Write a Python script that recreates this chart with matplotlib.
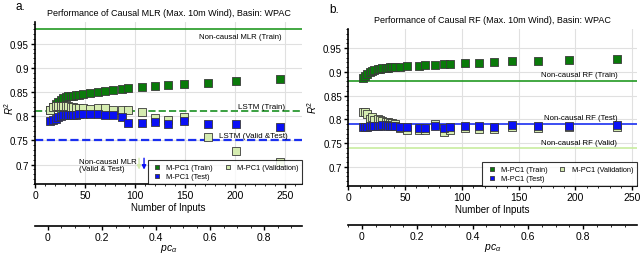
import matplotlib
matplotlib.use("Agg")
import matplotlib.pyplot as plt
from matplotlib.ticker import MultipleLocator

# ---- panel a: causal MLR ----
xa = [15, 18, 21, 23, 26, 28, 31, 33, 36, 38, 41, 44, 48, 55, 63, 70, 78, 87, 93,
      107, 120, 133, 149, 173, 201, 245]
train_a = [0.814, 0.819, 0.825, 0.830, 0.834, 0.838, 0.840, 0.841, 0.841, 0.842, 0.843,
           0.844, 0.846, 0.849, 0.850, 0.852, 0.855, 0.857, 0.858, 0.860, 0.862, 0.865,
           0.867, 0.869, 0.872, 0.877]
valid_a = [0.814, 0.819, 0.821, 0.822, 0.822, 0.821, 0.822, 0.821, 0.820, 0.819, 0.818,
           0.818, 0.818, 0.815, 0.817, 0.817, 0.813, 0.812, 0.814, 0.809, 0.797, 0.793,
           0.799, 0.757, 0.728, 0.705]
test_a = [0.791, 0.792, 0.795, 0.799, 0.801, 0.802, 0.803, 0.803, 0.803, 0.803, 0.803,
          0.804, 0.804, 0.804, 0.805, 0.803, 0.802, 0.799, 0.786, 0.786, 0.788, 0.785,
          0.790, 0.785, 0.785, 0.777]
mlr_train = 0.98
lstm_train = 0.81
lstm_validtest = 0.75

# ---- panel b: causal RF ----
xb = [13, 15, 17, 19, 21, 23, 26, 28, 30, 33, 35, 37, 39, 41, 46, 52, 62, 68, 76, 84,
      90, 103, 115, 128, 144, 167, 194, 237]
train_b = [0.888, 0.892, 0.895, 0.899, 0.902, 0.904, 0.906, 0.907, 0.908, 0.909, 0.909,
           0.910, 0.911, 0.911, 0.911, 0.912, 0.913, 0.914, 0.915, 0.916, 0.916, 0.918,
           0.919, 0.920, 0.922, 0.922, 0.925, 0.927]
valid_b = [0.815, 0.816, 0.811, 0.801, 0.804, 0.799, 0.800, 0.798, 0.796, 0.795, 0.794,
           0.793, 0.792, 0.790, 0.781, 0.778, 0.778, 0.778, 0.790, 0.774, 0.777, 0.781,
           0.780, 0.780, 0.785, 0.781, 0.784, 0.785]
test_b = [0.783, 0.784, 0.785, 0.786, 0.786, 0.787, 0.787, 0.787, 0.788, 0.788, 0.787,
          0.787, 0.787, 0.787, 0.785, 0.783, 0.782, 0.782, 0.787, 0.782, 0.783, 0.786,
          0.786, 0.783, 0.788, 0.787, 0.787, 0.788]
rf_train = 0.88
rf_test = 0.79
rf_valid = 0.74

pc_ticks = [0, 0.2, 0.4, 0.6, 0.8]

c_train = '#0a7a0a'
c_valid = '#d5ecb0'
c_test = '#0a10f5'
edge = '#3a3a3a'

plt.rcParams['font.family'] = ['Liberation Sans', 'DejaVu Sans']
plt.rcParams['mathtext.fontset'] = 'custom'
plt.rcParams['mathtext.it'] = 'Liberation Sans:italic'
plt.rcParams['mathtext.rm'] = 'Liberation Sans'
fig = plt.figure(figsize=(6.4, 2.55), dpi=100)
ax_a = fig.add_axes([0.0547, 0.2745, 0.4173, 0.6355])
ax_b = fig.add_axes([0.544, 0.267, 0.451, 0.615])


def style(ax, xmax, ymax, pc_lim, pc_off, rlab):
    ax.set_xlim(0, xmax)
    ax.set_ylim(0.66, ymax)
    ax.set_yticks([0.7, 0.75, 0.8, 0.85, 0.9, 0.95])
    ax.set_yticklabels(['0.7', '0.75', '0.8', '0.85', '0.9', '0.95'])
    ax.set_xticks([0, 50, 100, 150, 200, 250])
    ax.xaxis.set_minor_locator(MultipleLocator(10))
    ax.yaxis.set_minor_locator(MultipleLocator(0.01))
    ax.grid(True, color='#e0e0e0', lw=0.8)
    ax.set_axisbelow(True)
    for s in ['top', 'right']:
        ax.spines[s].set_visible(False)
    for s in ['left', 'bottom']:
        ax.spines[s].set_linewidth(1.2)
    ax.tick_params(labelsize=7.5, length=3, width=1, pad=1.5)
    ax.tick_params(axis='y', labelsize=7)
    ax.tick_params(which='minor', length=1.5, width=0.6)
    ax.set_xlabel('Number of Inputs', fontsize=7, labelpad=1.5)
    ax.set_ylabel('$R^2$', fontsize=7)
    ax.yaxis.set_label_coords(*rlab)

    pc = ax.twiny()
    pc.set_xlim(*pc_lim)
    pc.xaxis.set_ticks_position('bottom')
    pc.xaxis.set_label_position('bottom')
    pc.spines['bottom'].set_position(('outward', pc_off))
    for s in ['top', 'right', 'left']:
        pc.spines[s].set_visible(False)
    pc.spines['bottom'].set_linewidth(1.2)
    pc.set_xticks(pc_ticks)
    pc.set_xticklabels(['0', '0.2', '0.4', '0.6', '0.8'])
    pc.xaxis.set_minor_locator(MultipleLocator(0.05))
    pc.tick_params(labelsize=7.5, length=3, width=1, pad=1.5)
    pc.tick_params(which='minor', length=1.5, width=0.6)
    pc.set_xlabel(r'$pc_\alpha$', fontsize=7.5, labelpad=0)


def points(ax, x, tr, va, te):
    h1 = ax.scatter(x, tr, marker='s', s=30, c=c_train, edgecolors=edge, linewidths=0.6, zorder=3)
    h3 = ax.scatter(x, va, marker='s', s=30, c=c_valid, edgecolors=edge, linewidths=0.6, zorder=3)
    h2 = ax.scatter(x, te, marker='s', s=30, c=c_test, edgecolors=edge, linewidths=0.6, zorder=3)
    leg = ax.legend([h1, h2, h3], ['M-PC1 (Train)', 'M-PC1 (Test)', 'M-PC1 (Validation)'],
                    ncol=2, loc='lower right', fontsize=5.3, frameon=True, fancybox=False,
                    edgecolor='black', borderpad=0.5, handletextpad=0.5, labelspacing=0.35,
                    columnspacing=1.3, markerscale=0.6, borderaxespad=0.0, handlelength=1.5)
    leg.get_frame().set_linewidth(0.8)


# panel a
style(ax_a, 267, 0.995, (-0.048, 0.94), 30, (-0.07, 0.47))
ax_a.axhline(mlr_train, color='#229922', lw=1.2)
ax_a.axhline(lstm_train, color='#3aa040', lw=1.4, ls='--')
ax_a.axhline(lstm_validtest, color='#1a2ff0', lw=1.6, ls='--')
points(ax_a, xa, train_a, valid_a, test_a)
ax_a.text(247, 0.965, 'Non-causal MLR (Train)', fontsize=5.6, ha='right', va='center')
ax_a.text(250, 0.812, 'LSTM (Train)', fontsize=5.8, ha='right', va='bottom')
ax_a.text(253, 0.752, 'LSTM (Valid &Test)', fontsize=5.8, ha='right', va='bottom')
ax_a.text(44, 0.70, 'Non-causal MLR\n(Valid & Test)', fontsize=5.6, ha='left', va='center',
          linespacing=1.0)
ax_a.annotate('', xy=(104, 0.684), xytext=(104, 0.719),
              arrowprops=dict(arrowstyle='-|>', color=c_valid, lw=1.0, mutation_scale=6))
ax_a.annotate('', xy=(109, 0.684), xytext=(109, 0.719),
              arrowprops=dict(arrowstyle='-|>', color=c_test, lw=1.0, mutation_scale=6))
ax_a.set_title('Performance of Causal MLR (Max. 10m Wind), Basin: WPAC', fontsize=6.5, pad=5)

# panel b
style(ax_b, 254, 0.99, (-0.05, 0.994), 28, (-0.1, 0.51))
ax_b.axhline(rf_train, color='#229922', lw=1.2)
ax_b.axhline(rf_test, color='#1a2ff0', lw=1.2)
ax_b.axhline(rf_valid, color='#c8eca0', lw=1.2)
points(ax_b, xb, train_b, valid_b, test_b)
ax_b.text(237, 0.895, 'Non-causal RF (Train)', fontsize=5.6, ha='right', va='center')
ax_b.text(237, 0.805, 'Non-causal RF (Test)', fontsize=5.6, ha='right', va='center')
ax_b.text(237, 0.752, 'Non-causal RF (Valid)', fontsize=5.6, ha='right', va='center')
ax_b.set_title('Performance of Causal RF (Max. 10m Wind), Basin: WPAC', fontsize=6.5, pad=5)

fig.text(0.025, 0.995, 'a.', fontsize=8.5, ha='left', va='top')
fig.text(0.514, 0.985, 'b.', fontsize=8.5, ha='left', va='top')

fig.savefig('out.png', dpi=100)
